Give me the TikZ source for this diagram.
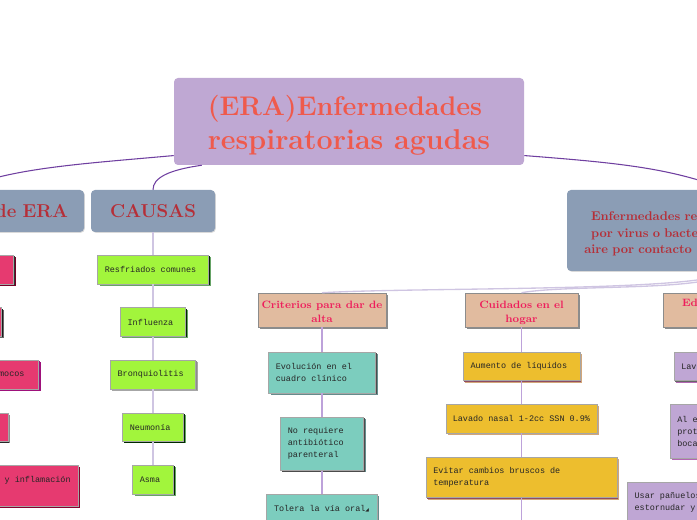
\documentclass[tikz,border=0pt]{standalone}
\usepackage{fontspec}
\newfontfamily\boxfont{Liberation Mono}
\newfontfamily\symfont{DejaVu Sans}
\usetikzlibrary{positioning, shadows}
\definecolor{rootfill}{HTML}{BFA8D3}
\definecolor{roottext}{HTML}{EF5A4C}
\definecolor{headfill}{HTML}{8B9DB5}
\definecolor{headtext}{HTML}{B52F38}
\definecolor{subfill}{HTML}{E1BB9F}
\definecolor{subtext}{HTML}{EE1E5C}
\definecolor{pinkfill}{HTML}{E63A70}
\definecolor{greenfill}{HTML}{A2F53C}
\definecolor{tealfill}{HTML}{7CCDBE}
\definecolor{goldfill}{HTML}{EDBE2E}
\definecolor{lilacfill}{HTML}{BFA6D4}
\definecolor{mainline}{HTML}{6F3FA0}
\definecolor{kidline}{HTML}{BDA2DA}
\definecolor{paleline}{HTML}{CFC5E2}
\newcommand{\kidfont}{\boxfont\fontsize{6.35}{9}\selectfont}
\tikzset{kidshadow/.style 2 args={
    general shadow={shadow xshift=1.5pt, shadow yshift=-1.5pt, fill=#2},
    general shadow={shadow xshift=0.8pt, shadow yshift=-0.8pt, fill=#1}}}

\begin{document}
\begin{tikzpicture}[x=0.75pt, y=-0.75pt, node distance=17.5pt]
    % Estilos
    \tikzstyle{rootbox}=[rectangle, rounded corners=3pt, fill=rootfill, text=roottext, font=\bfseries\fontsize{20.2}{26}\selectfont, align=center]
    \tikzstyle{headbox}=[rectangle, rounded corners=3pt, fill=headfill, text=headtext, general shadow={shadow xshift=0.6pt, shadow yshift=-0.6pt, fill=black!15}]
    \tikzstyle{subbox}=[rectangle, draw=black!45, line width=0.4pt, fill=subfill, text=subtext, align=center, minimum height=25.5pt, inner xsep=2pt, inner ysep=0pt, font=\bfseries\fontsize{8}{10.5}\selectfont, kidshadow={black!85}{black!45}]
    \tikzstyle{kid}=[rectangle, draw=black!35, line width=0.4pt, inner xsep=5.5pt, inner ysep=0pt, align=left, text=black!85, font=\kidfont, execute at begin node={\spaceskip 3.81pt\relax}]
    \tikzstyle{rosa}=[kid, fill=pinkfill, minimum height=21.5pt]
    \tikzstyle{verde}=[kid, fill=greenfill, minimum height=21.5pt, kidshadow={black!85!green}{green!40!black!60}]
    \tikzstyle{turquesa}=[kid, fill=tealfill, kidshadow={black!70}{teal!50!black!60}]
    \tikzstyle{oro}=[kid, fill=goldfill, kidshadow={purple!50!black!70}{brown!70}]
    \tikzstyle{lila}=[kid, fill=lilacfill, kidshadow={black!60}{violet!60}]
    \tikzstyle{mainarrow}=[draw=mainline, line width=0.8pt]
    \tikzstyle{kidarrow}=[draw=kidline, line width=1pt]
    \tikzstyle{palearrow}=[draw=paleline, line width=1pt]

    \useasboundingbox (0,0) rectangle (697,520);
    \clip (0,0) rectangle (697,520);

    % Raiz y titulos
    \node[rootbox, minimum width=262.5pt, minimum height=65.25pt] (root) at (349,121.5) {\rule{0pt}{21pt}(ERA)Enfermedades\hspace*{6pt}\\{\fontsize{21.5}{26}\selectfont respiratorias agudas}};
    \node[headbox, minimum width=93pt, minimum height=31.5pt, font=\bfseries\fontsize{14}{16}\selectfont] (causas) at (153,211) {CAUSAS};
    \node[headbox, minimum width=186pt, minimum height=31.5pt, font=\bfseries\fontsize{14}{16}\selectfont, align=right, text width=171pt] (tipos) at (-40,211) {de ERA\hspace*{4.5pt}};
    \node[headbox, minimum width=240pt, minimum height=60.75pt, inner xsep=18pt, text width=204pt, align=left, font=\bfseries\fontsize{9.5}{12.4}\selectfont] (enf) at (727,230.5) {\rule{0pt}{12pt}Enfermedades re\\por virus o bacte\\\hspace*{-5pt}aire por contacto};

    % Causas
    \node[verde, text width=72.25pt, below=17pt of causas] (resfriados) {Resfriados comunes};
    \node[verde, text width=38.1pt, below=of resfriados] (influenza) {Influenza};
    \node[verde, text width=53.1pt, below=of influenza, kidshadow={black!45}{black!35}] (bronq) {Bronquiolitis};
    \node[verde, text width=34.75pt, below=of bronq] (neumonia) {Neumonía};
    \node[verde, text width=19.75pt, below=of neumonia] (asma) {Asma};

    % Columna izquierda
    \node[rosa, text width=69.25pt, below=17pt of tipos, kidshadow={black!80}{purple!60!black}] (rosa1) {};
    \node[rosa, text width=51.25pt, below=of rosa1, kidshadow={black!90}{black!60}] (rosa2) {};
    \node[rosa, text width=106.75pt, align=right, below=of rosa2, kidshadow={violet!70!pinkfill}{violet!70!pinkfill}] (rosa3) {mocos\hspace*{5pt}};
    \node[rosa, text width=61pt, below=of rosa3, kidshadow={black!85}{black!45}] (rosa4) {};
    \node[rosa, text width=166pt, align=right, minimum height=30.5pt, below=of rosa4, kidshadow={black!90}{purple!70!black}] (rosa5) {y inflamación\\\mbox{}};

    % Criterios
    \node[subbox, minimum width=96pt] (criterios) at (322,310) {\rule{0pt}{8.5pt}Criterios para dar de\\alta};
    \node[turquesa, text width=69.25pt, minimum height=30.9pt, below=18.3pt of criterios] (evolucion) {Evolución en el\\cuadro clínico};
    \node[turquesa, text width=51.25pt, minimum height=40.1pt, below=of evolucion] (antibiotico) {No requiere\\antibiótico\\parenteral};
    \node[turquesa, text width=72pt, minimum height=21.5pt, below=of antibiotico] (oral) {Tolera la vía oral{\symfont\fontsize{3.5}{9}\selectfont ◢}};

    % Cuidados
    \node[subbox, minimum width=84.75pt] (cuidados) at (521.5,310) {\rule{0pt}{9.5pt}Cuidados en el\\hogar};
    \node[oro, text width=76.4pt, minimum height=21.5pt, below=18.3pt of cuidados] (liquidos) {Aumento de líquidos};
    \node[oro, text width=103pt, inner xsep=5pt, minimum height=21.5pt, below=of liquidos] (lavado) {Lavado nasal 1-2cc SSN 0.9\%};
    \node[oro, text width=132.25pt, minimum height=30.5pt, below=of lavado] (cambios) {Evitar cambios bruscos de\\temperatura};
    \coordinate (cuidadosfin) at (cambios.south |- 0,525);

    % Educacion
    \node[subbox, minimum width=87pt, align=left, text width=58.5pt, inner xsep=14.25pt] (educa) at (721,310) {Edu\\\mbox{}};
    \node[lila, minimum width=90pt, text width=79pt, minimum height=21.5pt, below=18.3pt of educa, xshift=9.75pt] (lav) {Lav};
    \node[lila, minimum width=96pt, text width=85pt, minimum height=40pt, below=of lav] (proteger) {Al e\\prot\\boca};
    \node[lila, minimum width=150pt, text width=139pt, minimum height=30.5pt, anchor=north west] (panuelos) at (627,482) {Usar pañuelos\\estornudar y};

    % Conexiones
    \draw[mainarrow] (root.191) .. controls (80,164) and (10,168) .. (tipos.north);
    \draw[mainarrow] (root.south west) ++(28,0) .. controls (168,170) and (153,178) .. (causas.north);
    \draw[mainarrow] (root.349) .. controls (620,163) and (670,168) .. (enf.north);
    \draw[palearrow] (causas) -- (resfriados);
    \draw[palearrow] (resfriados) -- (influenza);
    \draw[palearrow] (influenza) -- (bronq);
    \draw[palearrow] (bronq) -- (neumonia);
    \draw[palearrow] (neumonia) -- (asma);
    \draw[palearrow] (enf.south) .. controls (715,292) and (420,287) .. (criterios.north);
    \draw[palearrow] (enf.south) .. controls (715,292) and (570,284) .. (cuidados.north);
    \draw[palearrow] (enf.south) -- (educa.north);
    \draw[kidarrow] (criterios) -- (evolucion);
    \draw[kidarrow] (evolucion) -- (antibiotico);
    \draw[kidarrow] (antibiotico) -- (oral);
    \draw[kidarrow] (cuidados) -- (liquidos);
    \draw[kidarrow] (liquidos) -- (lavado);
    \draw[kidarrow] (lavado) -- (cambios);
    \draw[kidarrow] (cambios) -- (cuidadosfin);
\end{tikzpicture}
\end{document}
